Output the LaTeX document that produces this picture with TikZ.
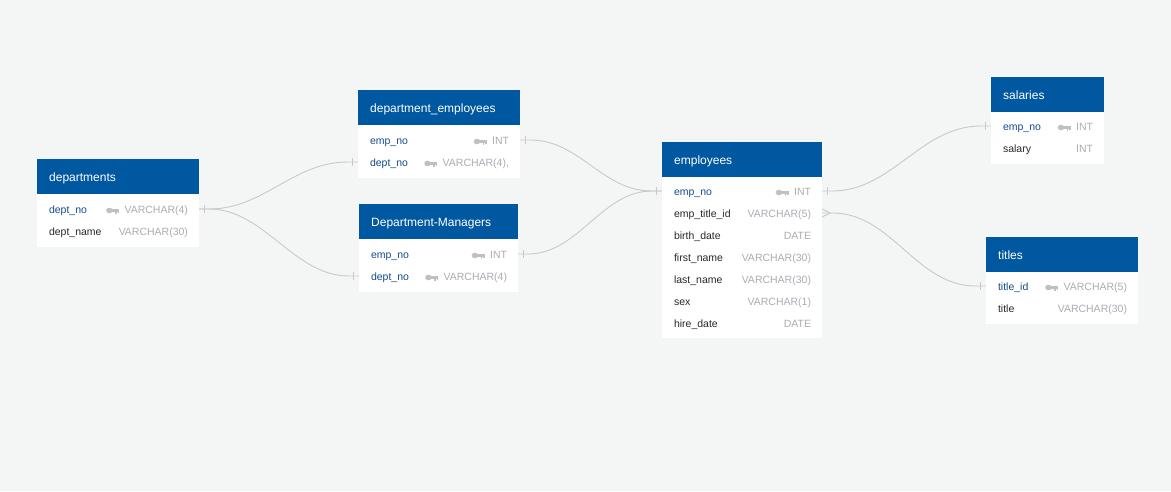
\documentclass[tikz,border=0pt]{standalone}
\usepackage{fontspec}
\setmainfont{Liberation Sans}
\usetikzlibrary{calc}
\definecolor{bg}{RGB}{244,246,246}
\definecolor{hdblue}{RGB}{0,88,160}
\definecolor{keyblue}{RGB}{22,75,140}
\definecolor{namedark}{RGB}{40,40,40}
\definecolor{typegray}{RGB}{168,173,179}
\definecolor{keygray}{RGB}{190,193,196}
\definecolor{conngray}{RGB}{200,202,202}
\tikzset{
  tabbody/.style={fill=white, draw=none, inner sep=0pt, anchor=north west},
  tabhead/.style={fill=hdblue, draw=none, inner sep=0pt, anchor=north west, minimum height=35pt},
  headtxt/.style={text=white, font=\fontsize{12}{14}\selectfont, anchor=west, inner sep=0pt, text height=8.5pt, text depth=2.5pt, yshift=-2pt},
  rowbox/.style={inner sep=0pt, minimum height=22pt, draw=none},
  fname/.style={font=\fontsize{10.5}{12}\selectfont, text=namedark, anchor=west, inner sep=0pt, text height=7.5pt, text depth=2.5pt, yshift=-1.5pt},
  fkey/.style={fname, text=keyblue},
  ftype/.style={font=\fontsize{10.5}{12}\selectfont, text=typegray, anchor=east, inner sep=0pt, text height=7.5pt, text depth=2.5pt, yshift=-1.5pt},
  conn/.style={draw=conngray, line width=0.9pt},
  tick/.style={draw=conngray, line width=0.9pt},
  keyicon/.pic={
    \fill[keygray] (3,0) ellipse (3.2pt and 2.8pt);
    \fill[keygray] (5,-1.1) rectangle (13,1.1);
    \fill[keygray] (9,1) rectangle (10.6,3.2);
    \fill[keygray] (11.4,1) rectangle (13,2.8);
  }
}
\begin{document}
\begin{tikzpicture}[x=1pt, y=-1pt]
\fill[bg] (0,0) rectangle (1171,491);
\useasboundingbox (0,0) rectangle (1171,491);

% ---------- departments ----------
\node[tabbody, minimum width=162pt, minimum height=88pt] (dep) at (37,159) {};
\node[tabhead, minimum width=162pt] (dep-h) at (dep.north west) {};
\node[headtxt] at ($(dep-h.west)+(12,0)$) {departments};
\node[rowbox, minimum width=162pt] (dep-1) at (118,209) {};
\node[rowbox, minimum width=162pt] (dep-2) at (118,231) {};
\node[fkey] at ($(dep-1.west)+(12,0)$) {dept\_no};
\node[ftype] (dep-1t) at ($(dep-1.east)+(-11,0)$) {VARCHAR(4)};
\pic at ($(dep-1t.west)+(-18,0)$) {keyicon};
\node[fname] at ($(dep-2.west)+(12,0)$) {dept\_name};
\node[ftype] at ($(dep-2.east)+(-11,0)$) {VARCHAR(30)};

% ---------- department_employees ----------
\node[tabbody, minimum width=162pt, minimum height=88pt] (de) at (358,90) {};
\node[tabhead, minimum width=162pt] (de-h) at (de.north west) {};
\node[headtxt] at ($(de-h.west)+(12,0)$) {department\_employees};
\node[rowbox, minimum width=162pt] (de-1) at (439,140) {};
\node[rowbox, minimum width=162pt] (de-2) at (439,162) {};
\node[fkey] at ($(de-1.west)+(12,0)$) {emp\_no};
\node[ftype] (de-1t) at ($(de-1.east)+(-11,0)$) {INT};
\pic at ($(de-1t.west)+(-18,0)$) {keyicon};
\node[fkey] at ($(de-2.west)+(12,0)$) {dept\_no};
\node[ftype] (de-2t) at ($(de-2.east)+(-11,0)$) {VARCHAR(4),};
\pic at ($(de-2t.west)+(-18,0)$) {keyicon};

% ---------- Department-Managers ----------
\node[tabbody, minimum width=159pt, minimum height=88pt] (dm) at (359,204) {};
\node[tabhead, minimum width=159pt] (dm-h) at (dm.north west) {};
\node[headtxt] at ($(dm-h.west)+(12,0)$) {Department-Managers};
\node[rowbox, minimum width=159pt] (dm-1) at (438.5,254) {};
\node[rowbox, minimum width=159pt] (dm-2) at (438.5,276) {};
\node[fkey] at ($(dm-1.west)+(12,0)$) {emp\_no};
\node[ftype] (dm-1t) at ($(dm-1.east)+(-11,0)$) {INT};
\pic at ($(dm-1t.west)+(-18,0)$) {keyicon};
\node[fkey] at ($(dm-2.west)+(12,0)$) {dept\_no};
\node[ftype] (dm-2t) at ($(dm-2.east)+(-11,0)$) {VARCHAR(4)};
\pic at ($(dm-2t.west)+(-18,0)$) {keyicon};

% ---------- employees ----------
\node[tabbody, minimum width=160pt, minimum height=196pt] (emp) at (662,142) {};
\node[tabhead, minimum width=160pt] (emp-h) at (emp.north west) {};
\node[headtxt] at ($(emp-h.west)+(12,0)$) {employees};
\node[rowbox, minimum width=160pt] (emp-1) at (742,191) {};
\node[rowbox, minimum width=160pt] (emp-2) at (742,213) {};
\node[rowbox, minimum width=160pt] (emp-3) at (742,235) {};
\node[rowbox, minimum width=160pt] (emp-4) at (742,257) {};
\node[rowbox, minimum width=160pt] (emp-5) at (742,279) {};
\node[rowbox, minimum width=160pt] (emp-6) at (742,301) {};
\node[rowbox, minimum width=160pt] (emp-7) at (742,323) {};
\node[fkey] at ($(emp-1.west)+(12,0)$) {emp\_no};
\node[ftype] (emp-1t) at ($(emp-1.east)+(-11,0)$) {INT};
\pic at ($(emp-1t.west)+(-18,0)$) {keyicon};
\node[fname] at ($(emp-2.west)+(12,0)$) {emp\_title\_id};
\node[ftype] at ($(emp-2.east)+(-11,0)$) {VARCHAR(5)};
\node[fname] at ($(emp-3.west)+(12,0)$) {birth\_date};
\node[ftype] at ($(emp-3.east)+(-11,0)$) {DATE};
\node[fname] at ($(emp-4.west)+(12,0)$) {first\_name};
\node[ftype] at ($(emp-4.east)+(-11,0)$) {VARCHAR(30)};
\node[fname] at ($(emp-5.west)+(12,0)$) {last\_name};
\node[ftype] at ($(emp-5.east)+(-11,0)$) {VARCHAR(30)};
\node[fname] at ($(emp-6.west)+(12,0)$) {sex};
\node[ftype] at ($(emp-6.east)+(-11,0)$) {VARCHAR(1)};
\node[fname] at ($(emp-7.west)+(12,0)$) {hire\_date};
\node[ftype] at ($(emp-7.east)+(-11,0)$) {DATE};

% ---------- salaries ----------
\node[tabbody, minimum width=113pt, minimum height=87pt] (sal) at (991,77) {};
\node[tabhead, minimum width=113pt] (sal-h) at (sal.north west) {};
\node[headtxt] at ($(sal-h.west)+(12,0)$) {salaries};
\node[rowbox, minimum width=113pt] (sal-1) at (1047.5,126) {};
\node[rowbox, minimum width=113pt] (sal-2) at (1047.5,148) {};
\node[fkey] at ($(sal-1.west)+(12,0)$) {emp\_no};
\node[ftype] (sal-1t) at ($(sal-1.east)+(-11,0)$) {INT};
\pic at ($(sal-1t.west)+(-18,0)$) {keyicon};
\node[fname] at ($(sal-2.west)+(12,0)$) {salary};
\node[ftype] at ($(sal-2.east)+(-11,0)$) {INT};

% ---------- titles ----------
\node[tabbody, minimum width=152pt, minimum height=87pt] (tit) at (986,237) {};
\node[tabhead, minimum width=152pt] (tit-h) at (tit.north west) {};
\node[headtxt] at ($(tit-h.west)+(12,0)$) {titles};
\node[rowbox, minimum width=152pt] (tit-1) at (1062,286) {};
\node[rowbox, minimum width=152pt] (tit-2) at (1062,308) {};
\node[fkey] at ($(tit-1.west)+(12,0)$) {title\_id};
\node[ftype] (tit-1t) at ($(tit-1.east)+(-11,0)$) {VARCHAR(5)};
\pic at ($(tit-1t.west)+(-18,0)$) {keyicon};
\node[fname] at ($(tit-2.west)+(12,0)$) {title};
\node[ftype] at ($(tit-2.east)+(-11,0)$) {VARCHAR(30)};

% ---------- connectors ----------
% departments.dept_no -> department_employees.dept_no
\draw[conn] (dep-1.east) -- ++(10,0) .. controls +(55,0) and +(-55,0) .. ($(de-2.west)+(-10,0)$) -- (de-2.west);
% departments.dept_no -> Department-Managers.dept_no
\draw[conn] (dep-1.east) -- ++(10,0) .. controls +(55,0) and +(-55,0) .. ($(dm-2.west)+(-10,0)$) -- (dm-2.west);
\draw[tick] ($(dep-1.east)+(5,-4)$) -- ++(0,8);
\draw[tick] ($(de-2.west)+(-5,-4)$) -- ++(0,8);
\draw[tick] ($(dm-2.west)+(-5,-4)$) -- ++(0,8);

% department_employees.emp_no -> employees.emp_no
\draw[conn] (de-1.east) -- ++(10,0) .. controls +(50,0) and +(-50,0) .. ($(emp-1.west)+(-10,0)$) -- (emp-1.west);
% Department-Managers.emp_no -> employees.emp_no
\draw[conn] (dm-1.east) -- ++(10,0) .. controls +(50,0) and +(-50,0) .. ($(emp-1.west)+(-10,0)$) -- (emp-1.west);
\draw[tick] ($(de-1.east)+(5,-4)$) -- ++(0,8);
\draw[tick] ($(dm-1.east)+(5,-4)$) -- ++(0,8);
\draw[tick] ($(emp-1.west)+(-5,-4)$) -- ++(0,8);

% employees.emp_no -> salaries.emp_no
\draw[conn] (emp-1.east) -- ++(10,0) .. controls +(60,0) and +(-60,0) .. ($(sal-1.west)+(-10,0)$) -- (sal-1.west);
\draw[tick] ($(emp-1.east)+(5,-4)$) -- ++(0,8);
\draw[tick] ($(sal-1.west)+(-5,-4)$) -- ++(0,8);

% employees.emp_title_id -> titles.title_id
\draw[conn] (emp-2.east) -- ++(10,0) .. controls +(60,0) and +(-60,0) .. ($(tit-1.west)+(-10,0)$) -- (tit-1.west);
\draw[tick] ($(emp-2.east)+(0,-4)$) -- ($(emp-2.east)+(8,0)$) -- ($(emp-2.east)+(0,4)$);
\draw[tick] ($(tit-1.west)+(-5,-4)$) -- ++(0,8);
\end{tikzpicture}
\end{document}
